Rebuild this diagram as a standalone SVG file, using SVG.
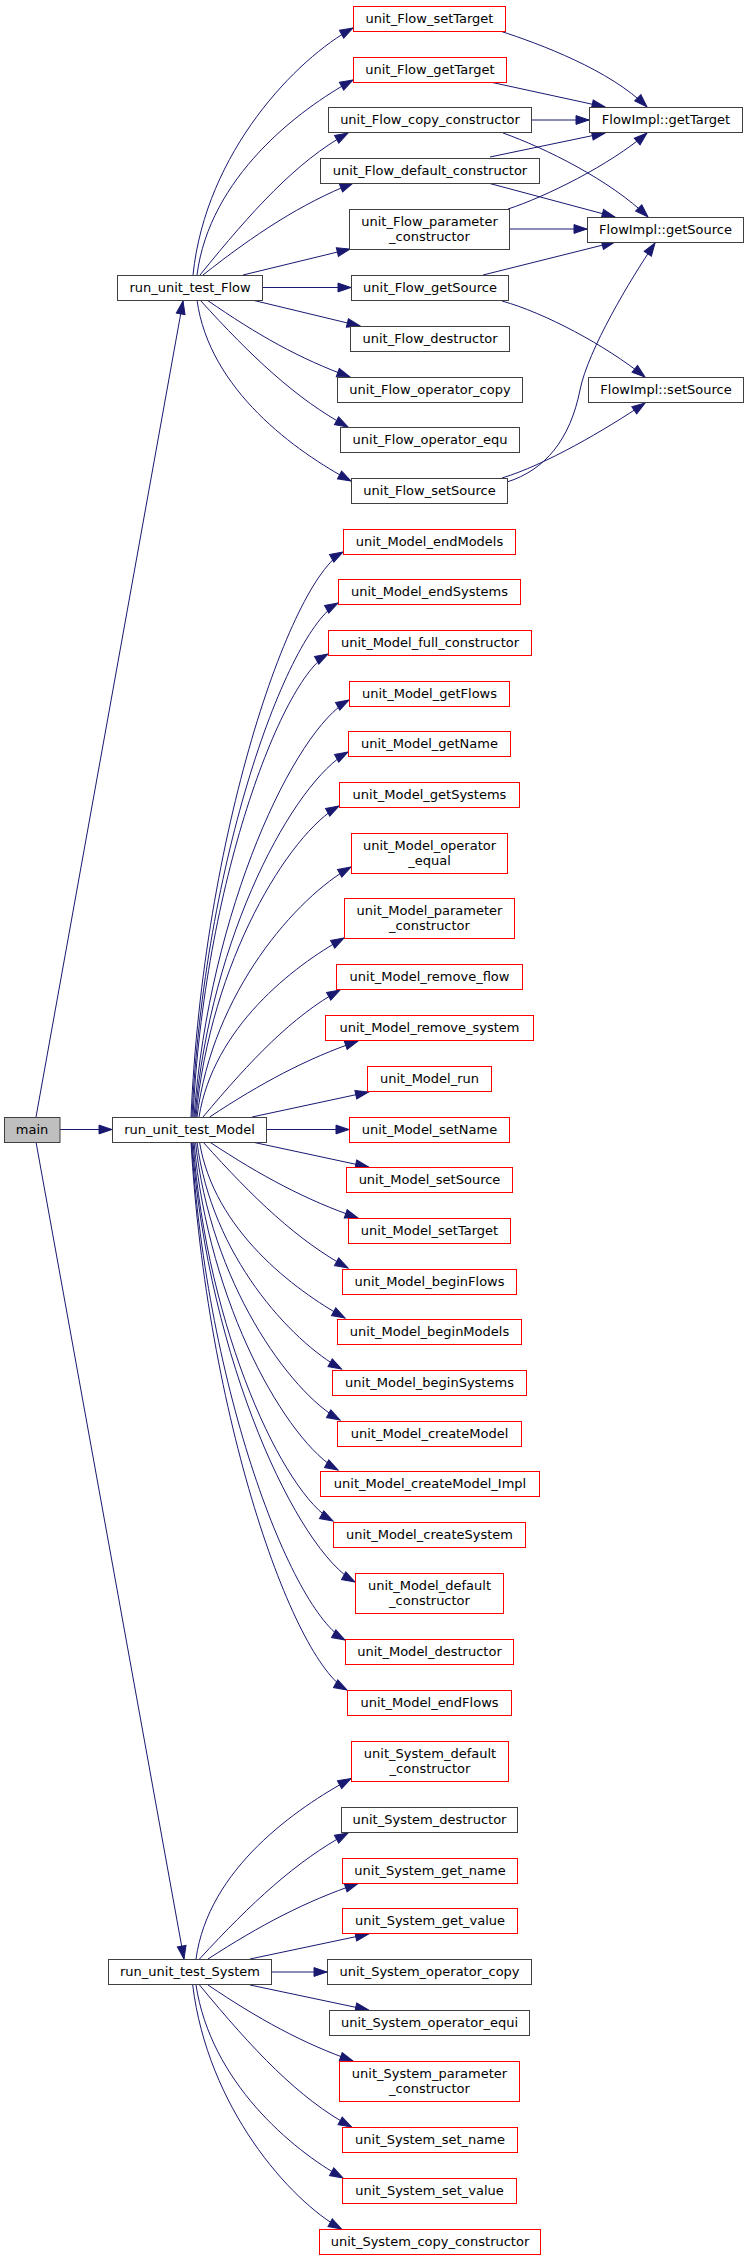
<svg xmlns="http://www.w3.org/2000/svg" width="748" height="2260" viewBox="0 0 748 2260">
<style>
.n rect{fill:#fff;stroke:#404040;stroke-width:1}
.n.r rect{stroke:#ff0000}
.n.m rect{fill:#bfbfbf}
.n text{font-family:"DejaVu Sans","Liberation Sans",sans-serif;font-size:13px;text-anchor:middle;fill:#000}
#edges path{fill:none;stroke:#191970;stroke-width:1;marker-end:url(#arr)}
</style>
<defs>
<marker id="arr" markerUnits="userSpaceOnUse" markerWidth="15" markerHeight="10" refX="13.5" refY="5" orient="auto" overflow="visible">
<path d="M0.5,0.6 L13.5,5 L0.5,9.4 z" fill="#191970" stroke="#191970" stroke-width="1"/>
</marker>
</defs>
<rect x="0" y="0" width="748" height="2260" fill="#fff"/>
<g id="edges">
<path d="M36,1117 L183,301"/>
<path d="M60,1129.5 L112,1129.5"/>
<path d="M36,1142 L184,1959"/>
<path d="M193,275 C205.8,151.5 297,58.4 353,28"/>
<path d="M197,275 C209.5,177.5 298.4,109.6 353,80"/>
<path d="M200,275 C251.8,211 296.2,161.7 348,133"/>
<path d="M203,275 C255.5,233.6 300.5,204.2 353,183"/>
<path d="M243,275 L350,249"/>
<path d="M262,287.5 L351,287.5"/>
<path d="M252,300 L360,326"/>
<path d="M207,300 C257,334.7 300,359 350,377"/>
<path d="M200,300 C251.8,357 296.2,399 348,427"/>
<path d="M197,300 C209.2,390 296.4,452 351,481"/>
<path d="M500,31 C540,44 610,70 647,107"/>
<path d="M490,82 L605,107"/>
<path d="M531,120 L589,120"/>
<path d="M503,133 C545,148 610,180 648,217"/>
<path d="M490,157 L605,133"/>
<path d="M488,183 L615,217"/>
<path d="M508,209 C545,197 610,165 647,133"/>
<path d="M509,229 L587,229"/>
<path d="M483,275 L615,242"/>
<path d="M502,301 C545,313 605,345 645,377"/>
<path d="M502,478 C545,465 605,430 645,403"/>
<path d="M507,482 C545,470 570,440 580,390 C588,350 630,280 655,243"/>
<path d="M191,1117 C203.2,834.5 289.8,581.5 343,552"/>
<path d="M192,1117 C203.7,860 286.9,631.3 338,603"/>
<path d="M193,1117 C203.8,885.5 280.7,680.2 328,654"/>
<path d="M194,1117 C209.5,908.5 294.7,730 349,700"/>
<path d="M195,1117 C210.3,934.5 294.5,781.6 348,752"/>
<path d="M196,1117 C210.3,961.5 289,833.7 339,806"/>
<path d="M197,1117 C212.4,992 297.1,896.9 351,867"/>
<path d="M199,1117 C213.5,1027.5 293.2,966.1 344,938"/>
<path d="M203,1117 C251,1059.8 292,1016.6 340,990"/>
<path d="M209.6,1117 C261.5,1082.8 306.1,1058.9 358,1041"/>
<path d="M252,1117 L368.5,1092"/>
<path d="M266,1129.5 L349,1129.5"/>
<path d="M252,1142 L368.5,1167"/>
<path d="M209.6,1142 C261.5,1176.2 306.1,1200.1 358,1218"/>
<path d="M203,1142 C253.8,1198.7 297.2,1240.2 348,1268"/>
<path d="M199.5,1142 C214,1230 294.1,1289.8 345,1318"/>
<path d="M197,1142 C211.5,1255.5 290.9,1341 341.5,1369"/>
<path d="M195.5,1142 C210,1281 289.4,1392 340,1420"/>
<path d="M194,1142 C208.4,1306 287.6,1442.1 338,1470"/>
<path d="M193,1142 C207,1331.5 284,1493.9 333,1521"/>
<path d="M192,1142 C208.3,1362 298,1550.4 355,1582"/>
<path d="M191.5,1142 C206.9,1391 291.3,1610.2 345,1640"/>
<path d="M191,1142 C206.6,1416 292.4,1659.8 347,1690"/>
<path d="M196,1959 C208.3,1868.8 296.1,1808.4 351,1778.5"/>
<path d="M199.5,1959 C251.5,1902.6 296,1861.3 348,1833"/>
<path d="M208,1959 C260.5,1925 305.5,1901.3 358,1883.5"/>
<path d="M250,1959 L368.5,1934"/>
<path d="M271,1972 L327,1972"/>
<path d="M250,1985 L368.5,2010"/>
<path d="M208,1985 C258.8,2019.2 302.2,2043.1 353,2061"/>
<path d="M199.5,1985 C252.7,2049.4 298.4,2098.5 351.6,2127"/>
<path d="M196,1985 C210.7,2081.5 291.5,2149.5 343,2178"/>
<path d="M192.7,1985 C207.6,2107 289.4,2200.2 341.5,2229"/>
</g>
<g id="main" class="n m"><rect x="4.5" y="1117.5" width="55.5" height="25"/><text x="32" y="1134">main</text></g>
<g id="run_unit_test_Flow" class="n"><rect x="117.5" y="275.5" width="145" height="25"/><text x="190" y="292">run_unit_test_Flow</text></g>
<g id="run_unit_test_Model" class="n"><rect x="112.5" y="1117.5" width="154" height="25"/><text x="189.5" y="1134">run_unit_test_Model</text></g>
<g id="run_unit_test_System" class="n"><rect x="108.5" y="1959.5" width="163" height="25"/><text x="190" y="1976">run_unit_test_System</text></g>
<g id="unit_Flow_setTarget" class="n r"><rect x="353.5" y="6.5" width="152" height="25"/><text x="429.5" y="23">unit_Flow_setTarget</text></g>
<g id="unit_Flow_getTarget" class="n r"><rect x="353.5" y="57.5" width="153" height="25"/><text x="430" y="74">unit_Flow_getTarget</text></g>
<g id="unit_Flow_copy_constructor" class="n"><rect x="328.5" y="107.5" width="203" height="25"/><text x="430" y="124">unit_Flow_copy_constructor</text></g>
<g id="unit_Flow_default_constructor" class="n"><rect x="320.5" y="158.5" width="219" height="25"/><text x="430" y="175">unit_Flow_default_constructor</text></g>
<g id="unit_Flow_parameter_constructor" class="n"><rect x="349.5" y="209.5" width="160" height="40"/><text x="429.5" y="225.5">unit_Flow_parameter</text><text x="429.5" y="240.5">_constructor</text></g>
<g id="unit_Flow_getSource" class="n"><rect x="351.5" y="275.5" width="157" height="25"/><text x="430" y="292">unit_Flow_getSource</text></g>
<g id="unit_Flow_destructor" class="n"><rect x="350.5" y="326.5" width="159" height="25"/><text x="430" y="343">unit_Flow_destructor</text></g>
<g id="unit_Flow_operator_copy" class="n"><rect x="337.5" y="377.5" width="185" height="25"/><text x="430" y="394">unit_Flow_operator_copy</text></g>
<g id="unit_Flow_operator_equ" class="n"><rect x="340.5" y="427.5" width="179" height="25"/><text x="430" y="444">unit_Flow_operator_equ</text></g>
<g id="unit_Flow_setSource" class="n"><rect x="351.5" y="478.5" width="156" height="25"/><text x="429.5" y="495">unit_Flow_setSource</text></g>
<g id="FlowImpl_getTarget" class="n"><rect x="589.5" y="107.5" width="153" height="25"/><text x="666" y="124">FlowImpl::getTarget</text></g>
<g id="FlowImpl_getSource" class="n"><rect x="587.5" y="217.5" width="156" height="25"/><text x="665.5" y="234">FlowImpl::getSource</text></g>
<g id="FlowImpl_setSource" class="n"><rect x="588.5" y="377.5" width="155" height="25"/><text x="666" y="394">FlowImpl::setSource</text></g>
<g id="unit_Model_endModels" class="n r"><rect x="343.5" y="529.5" width="172" height="25"/><text x="429.5" y="546">unit_Model_endModels</text></g>
<g id="unit_Model_endSystems" class="n r"><rect x="338.5" y="579.5" width="182" height="25"/><text x="429.5" y="596">unit_Model_endSystems</text></g>
<g id="unit_Model_full_constructor" class="n r"><rect x="328.5" y="630.5" width="203" height="25"/><text x="430" y="647">unit_Model_full_constructor</text></g>
<g id="unit_Model_getFlows" class="n r"><rect x="349.5" y="681.5" width="160" height="25"/><text x="429.5" y="698">unit_Model_getFlows</text></g>
<g id="unit_Model_getName" class="n r"><rect x="348.5" y="731.5" width="162" height="25"/><text x="429.5" y="748">unit_Model_getName</text></g>
<g id="unit_Model_getSystems" class="n r"><rect x="339.5" y="782.5" width="180" height="25"/><text x="429.5" y="799">unit_Model_getSystems</text></g>
<g id="unit_Model_operator_equal" class="n r"><rect x="351.5" y="833.5" width="156" height="40"/><text x="429.5" y="849.5">unit_Model_operator</text><text x="429.5" y="864.5">_equal</text></g>
<g id="unit_Model_parameter_constructor" class="n r"><rect x="344.5" y="898.5" width="170" height="40"/><text x="429.5" y="914.5">unit_Model_parameter</text><text x="429.5" y="929.5">_constructor</text></g>
<g id="unit_Model_remove_flow" class="n r"><rect x="336.5" y="964.5" width="186" height="25"/><text x="429.5" y="981">unit_Model_remove_flow</text></g>
<g id="unit_Model_remove_system" class="n r"><rect x="325.5" y="1015.5" width="208" height="25"/><text x="429.5" y="1032">unit_Model_remove_system</text></g>
<g id="unit_Model_run" class="n r"><rect x="367.5" y="1066.5" width="124" height="25"/><text x="429.5" y="1083">unit_Model_run</text></g>
<g id="unit_Model_setName" class="n r"><rect x="349.5" y="1117.5" width="160" height="25"/><text x="429.5" y="1134">unit_Model_setName</text></g>
<g id="unit_Model_setSource" class="n r"><rect x="346.5" y="1167.5" width="166" height="25"/><text x="429.5" y="1184">unit_Model_setSource</text></g>
<g id="unit_Model_setTarget" class="n r"><rect x="348.5" y="1218.5" width="162" height="25"/><text x="429.5" y="1235">unit_Model_setTarget</text></g>
<g id="unit_Model_beginFlows" class="n r"><rect x="342.5" y="1269.5" width="174" height="25"/><text x="429.5" y="1286">unit_Model_beginFlows</text></g>
<g id="unit_Model_beginModels" class="n r"><rect x="337.5" y="1319.5" width="184" height="25"/><text x="429.5" y="1336">unit_Model_beginModels</text></g>
<g id="unit_Model_beginSystems" class="n r"><rect x="332.5" y="1370.5" width="194" height="25"/><text x="429.5" y="1387">unit_Model_beginSystems</text></g>
<g id="unit_Model_createModel" class="n r"><rect x="337.5" y="1421.5" width="184" height="25"/><text x="429.5" y="1438">unit_Model_createModel</text></g>
<g id="unit_Model_createModel_Impl" class="n r"><rect x="320.5" y="1471.5" width="219" height="25"/><text x="430" y="1488">unit_Model_createModel_Impl</text></g>
<g id="unit_Model_createSystem" class="n r"><rect x="333.5" y="1522.5" width="192" height="25"/><text x="429.5" y="1539">unit_Model_createSystem</text></g>
<g id="unit_Model_default_constructor" class="n r"><rect x="355.5" y="1573.5" width="148" height="40"/><text x="429.5" y="1589.5">unit_Model_default</text><text x="429.5" y="1604.5">_constructor</text></g>
<g id="unit_Model_destructor" class="n r"><rect x="345.5" y="1639.5" width="168" height="25"/><text x="429.5" y="1656">unit_Model_destructor</text></g>
<g id="unit_Model_endFlows" class="n r"><rect x="347.5" y="1690.5" width="164" height="25"/><text x="429.5" y="1707">unit_Model_endFlows</text></g>
<g id="unit_System_default_constructor" class="n r"><rect x="351.5" y="1741.5" width="157" height="40"/><text x="430" y="1757.5">unit_System_default</text><text x="430" y="1772.5">_constructor</text></g>
<g id="unit_System_destructor" class="n"><rect x="341.5" y="1807.5" width="176" height="25"/><text x="429.5" y="1824">unit_System_destructor</text></g>
<g id="unit_System_get_name" class="n r"><rect x="342.5" y="1858.5" width="175" height="25"/><text x="430" y="1875">unit_System_get_name</text></g>
<g id="unit_System_get_value" class="n r"><rect x="342.5" y="1908.5" width="175" height="25"/><text x="430" y="1925">unit_System_get_value</text></g>
<g id="unit_System_operator_copy" class="n"><rect x="327.5" y="1959.5" width="204" height="25"/><text x="429.5" y="1976">unit_System_operator_copy</text></g>
<g id="unit_System_operator_equi" class="n"><rect x="329.5" y="2010.5" width="200" height="25"/><text x="429.5" y="2027">unit_System_operator_equi</text></g>
<g id="unit_System_parameter_constructor" class="n r"><rect x="339.5" y="2061.5" width="180" height="40"/><text x="429.5" y="2077.5">unit_System_parameter</text><text x="429.5" y="2092.5">_constructor</text></g>
<g id="unit_System_set_name" class="n r"><rect x="342.5" y="2127.5" width="175" height="25"/><text x="430" y="2144">unit_System_set_name</text></g>
<g id="unit_System_set_value" class="n r"><rect x="342.5" y="2178.5" width="174" height="25"/><text x="429.5" y="2195">unit_System_set_value</text></g>
<g id="unit_System_copy_constructor" class="n r"><rect x="319.5" y="2229.5" width="221" height="25"/><text x="430" y="2246">unit_System_copy_constructor</text></g>
</svg>
